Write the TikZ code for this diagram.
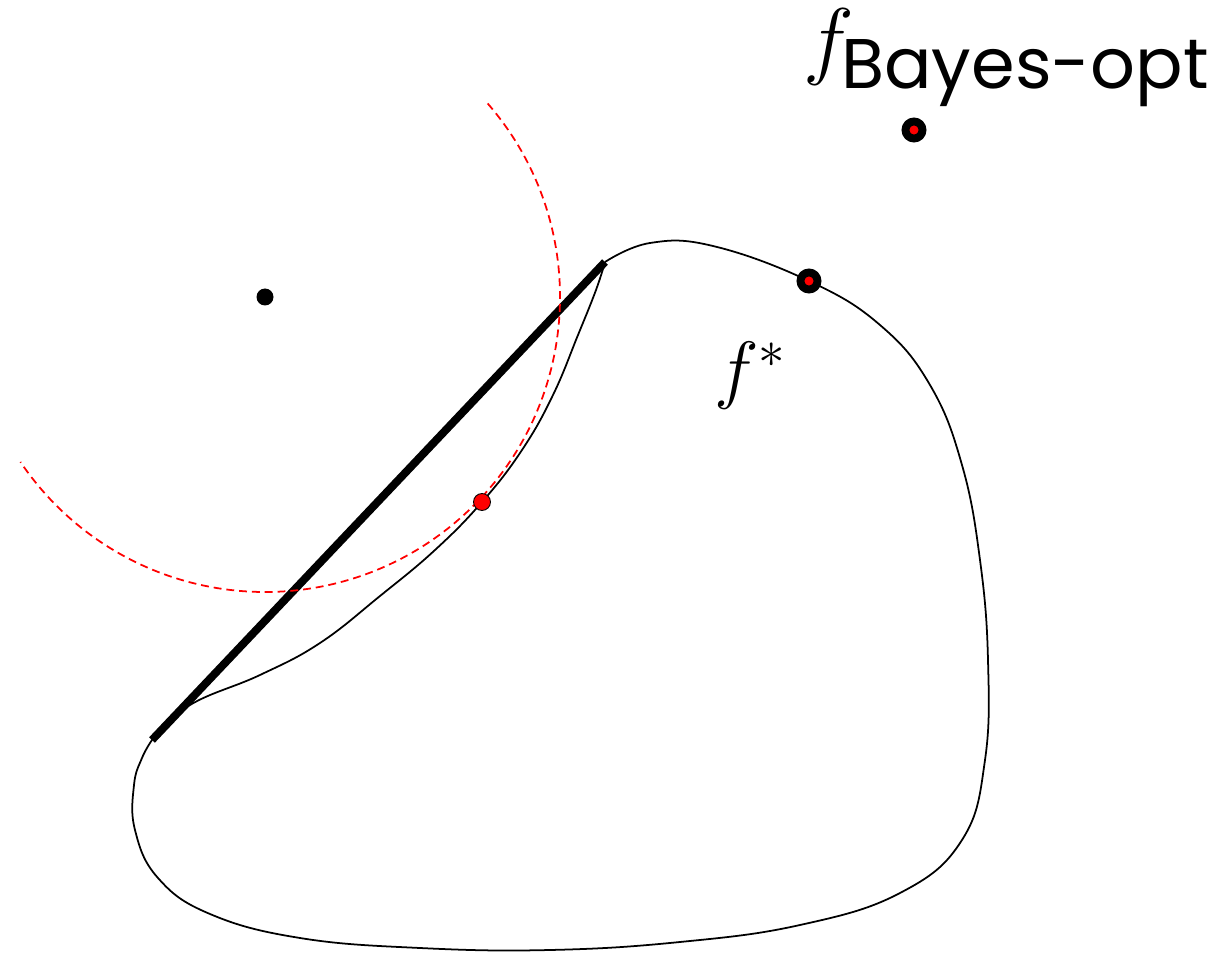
\RequirePackage{fix-cm}
\documentclass[tikz,border=0pt]{standalone}
\usepackage{amsmath}
\usepackage{fontspec}
\newfontfamily\labelsans{Poppins}
\usepackage{tikz}

\begin{document}
\begin{tikzpicture}[x=0.02cm, y=-0.02cm,
    optdot/.style={circle, draw=black, fill=red, line width=4.5pt, inner sep=0pt, minimum size=0.34cm},
    blackdot/.style={circle, fill=black, inner sep=0pt, minimum size=0.34cm},
    projdot/.style={circle, draw=black, fill=red, line width=0.5pt, inner sep=0pt, minimum size=0.34cm},
    bigmath/.style={inner sep=0pt, anchor=base west}]
  \useasboundingbox (0,0) rectangle (1221,959);

  % the set of classifiers
  \draw[line width=1pt, line join=round]
    plot[smooth, tension=0.7] coordinates {(605,262) (650,243) (713,246) (809,281) (880,325)
      (930,385) (962,465) (980,560) (988,660) (985,760) (962,840) (900,893) (800,925)
      (680,942) (550,950) (420,948) (300,938) (210,914) (158,878) (135,830) (134,785)
      (142,758) (152,740)}
    plot[smooth, tension=0.7] coordinates {(152,740) (190,705) (260,675) (320,643) (380,596)
      (435,550) (482,502) (522,450) (553,395) (578,335) (596,290) (605,262)};

  \coordinate (ltop) at (605,262);
  \coordinate (lbot) at (152,740);
  \draw[line width=4.5pt] (lbot) -- (ltop);

  \node[blackdot] (pt) at (265,297) {};
  \draw[red, line width=1pt, dash pattern=on 4.5pt off 2.8pt]
    (pt) ++(-41:295) arc[start angle=-41, end angle=146, radius=295];
  \node[projdot] (proj) at (482,502) {};

  \node[optdot] (fstar) at (809,281) {};
  \node[optdot] (fbayes) at (914,130) {};

  \node[bigmath, font=\fontsize{43}{48}\selectfont] (fstarlbl) at (714,395) {$f^*$};
  \node[bigmath, font=\fontsize{49}{55}\selectfont] (fbayeslbl) at (803,69)
    {$f_{\kern-2pt\mbox{\fontsize{40}{44}\selectfont\labelsans Bayes-opt}}$};
\end{tikzpicture}
\end{document}
